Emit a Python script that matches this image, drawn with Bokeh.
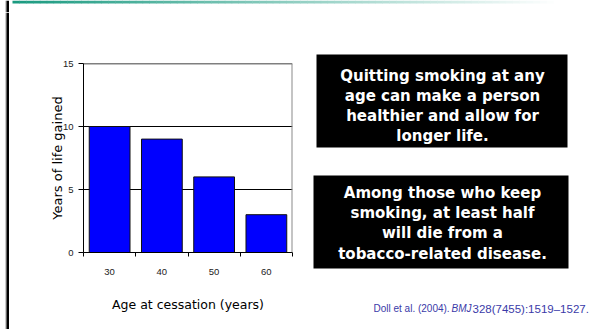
from bokeh.plotting import figure
from bokeh.layouts import row, column
from bokeh.models import (Range1d, FixedTicker, Span, LinearAxis, Grid)
from bokeh.core.properties import value
from bokeh.embed import file_html
from bokeh.resources import INLINE

# ---- data ----
ages = ["30", "40", "50", "60"]
years_gained = [10, 9, 6, 3]
y_ticks = [0, 5, 10, 15]
x_title = "Age at cessation (years)"
y_title = "Years of life gained"
box1_lines = ["Quitting smoking at any", "age can make a person",
              "healthier and allow for", "longer life."]
box2_lines = ["Among those who keep", "smoking, at least half",
              "will die from a", "tobacco-related disease."]
cite_parts = ["Doll et al. (2004). ", "BMJ", "328(7455):1519\u20131527."]

W, H = 591, 329
TOP_H = 12         # height of the strip holding the gradient bar
LEFT_W = 9         # width of the left border strip
CHART_W = 291      # chart panel width (page x 9..300)
RIGHT_X0 = LEFT_W + CHART_W
FL, FR, FT, FB = 83, 292, 63, 252   # chart frame edges in page pixels


def no_align(f):
    try:
        f.frame_align = False
    except Exception:
        pass


def deco_fig(w, h, x0, x1, y0, y1):
    f = figure(width=w, height=h, output_backend="svg", toolbar_location=None,
               x_range=Range1d(x0, x1), y_range=Range1d(y1, y0),
               x_axis_location=None, y_axis_location=None, min_border=0)
    f.outline_line_color = None
    f.grid.visible = False
    f.background_fill_color = "white"
    f.border_fill_color = "white"
    no_align(f)
    return f


# ---- top gradient strip ----
top = deco_fig(W, TOP_H, 0, W, 0, TOP_H)
c0 = (26, 154, 128)
n = 80
gx0, gx1 = 12, 560
gl, gr, gc = [], [], []
for i in range(n):
    t = i / (n - 1)
    col = tuple(int(round(c0[k] + (255 - c0[k]) * t)) for k in range(3))
    gl.append(gx0 + (gx1 - gx0) * i / n)
    gr.append(gx0 + (gx1 - gx0) * (i + 1) / n + 0.5)
    gc.append("#%02x%02x%02x" % col)
top.quad(left=gl, right=gr, top=0, bottom=3, fill_color=gc, line_color=None)
top.quad(left=[5, 6], right=[6, 8.5], top=0, bottom=TOP_H,
         fill_color=["#9a9a9a", "black"], line_color=None)

# ---- left border strip ----
left = deco_fig(LEFT_W, H - TOP_H, 0, LEFT_W, TOP_H, H)
left.quad(left=[5, 6], right=[6, 8.5], top=TOP_H, bottom=H,
          fill_color=["#9a9a9a", "black"], line_color=None)

# ---- chart ----
xs = [i + 1 for i in range(len(ages))]
p = figure(width=CHART_W, height=H - TOP_H, output_backend="svg", toolbar_location=None,
           x_range=Range1d(0.5, len(ages) + 0.5), y_range=Range1d(0, 15),
           min_border_left=FL - LEFT_W, min_border_right=RIGHT_X0 - FR,
           min_border_top=FT - TOP_H, min_border_bottom=H - FB,
           x_axis_location=None, y_axis_location=None)
p.outline_line_color = None
p.background_fill_color = "white"
p.border_fill_color = "white"
no_align(p)

xaxis = LinearAxis(ticker=FixedTicker(ticks=xs,
                                      minor_ticks=[x - 0.5 for x in xs] + [xs[-1] + 0.5]),
                   major_label_overrides={x: a for x, a in zip(xs, ages)})
xaxis.axis_label = x_title
xaxis.axis_label_text_font = "DejaVu Sans"
xaxis.axis_label_text_font_size = "12.5px"
xaxis.axis_label_text_font_style = "normal"
xaxis.axis_label_text_color = "black"
xaxis.axis_label_standoff = 19
xaxis.major_label_text_font = "Liberation Sans"
xaxis.major_label_text_font_size = "9.5px"
xaxis.major_label_text_color = "#222222"
xaxis.major_tick_line_color = None
xaxis.major_tick_out = 0
xaxis.major_tick_in = 0
xaxis.major_label_standoff = 12
xaxis.minor_tick_line_color = "black"
xaxis.minor_tick_out = 4
xaxis.minor_tick_in = 0
xaxis.axis_line_color = "black"
p.add_layout(xaxis, "below")

yaxis = LinearAxis(ticker=FixedTicker(ticks=y_ticks))
yaxis.axis_label = y_title
yaxis.axis_label_text_font = "DejaVu Sans"
yaxis.axis_label_text_font_size = "13px"
yaxis.axis_label_text_font_style = "normal"
yaxis.axis_label_text_color = "black"
yaxis.axis_label_standoff = -5
yaxis.major_label_text_font = "Liberation Sans"
yaxis.major_label_text_font_size = "9.5px"
yaxis.major_label_text_color = "#222222"
yaxis.major_tick_out = 5
yaxis.major_tick_in = 0
yaxis.major_label_standoff = 5
yaxis.minor_tick_line_color = None
yaxis.axis_line_color = "black"
p.add_layout(yaxis, "left")

p.xgrid.visible = False
p.ygrid.visible = False
p.add_layout(Grid(dimension=1, ticker=FixedTicker(ticks=y_ticks[1:-1]),
                  grid_line_color="black", grid_line_width=1))
p.add_layout(Span(location=y_ticks[-1], dimension="width",
                  line_color="black", line_width=1.5))

p.vbar(x=xs, top=years_gained, width=0.78, fill_color="#0000ff",
       line_color="#111111", line_width=1)

p.add_layout(Span(location=len(ages) + 0.5, dimension="height",
                  line_color="#8a8a8a", line_width=2))

# ---- right panel: text boxes and citation ----
right = deco_fig(W - RIGHT_X0, H - TOP_H, RIGHT_X0, W, TOP_H, H)
boxes = [(316, 567, 54, 147), (313, 568, 175, 268)]
right.quad(left=[b[0] for b in boxes], right=[b[1] for b in boxes],
           top=[b[2] for b in boxes], bottom=[b[3] for b in boxes],
           fill_color="black", line_color=None)
all_lines = box1_lines + box2_lines
baselines = [75, 95, 115, 135] + [192, 212, 232.5, 253]
right.text(x=[442] * len(all_lines), y=baselines, text=all_lines,
           text_align="center", text_baseline="alphabetic", text_color="white",
           text_font=value("DejaVu Sans"), text_font_style="bold",
           text_font_size="15px")

cite_color = "#3a3aa8"
for txt, x, style, size in zip(cite_parts, [373, 451, 472],
                               ["normal", "italic", "normal"],
                               ["10px", "10px", "11.5px"]):
    right.text(x=[x], y=[308], text=[txt], text_align="left",
               text_baseline="alphabetic", text_color=cite_color,
               text_font=value("Liberation Sans"), text_font_style=style,
               text_font_size=size)

layout = column(top, row(left, p, right, spacing=0), spacing=0)
open("out.html", "w").write(file_html(layout, INLINE))
